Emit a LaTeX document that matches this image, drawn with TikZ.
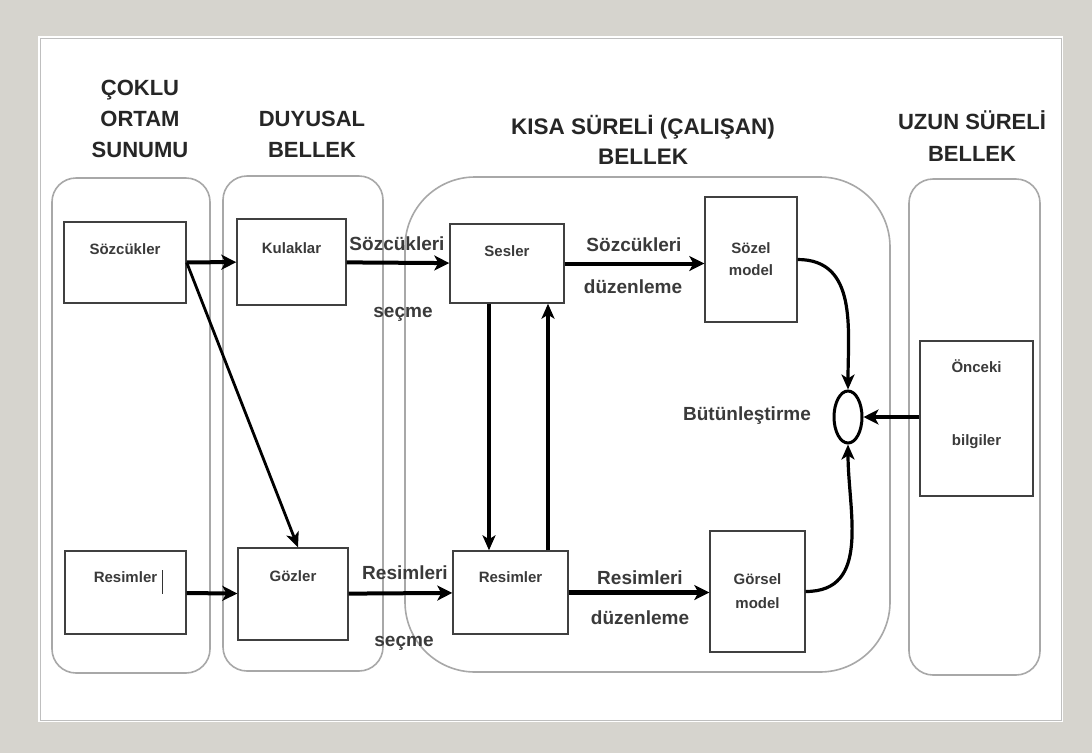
\documentclass[tikz,border=0pt]{standalone}
\usepackage{fontspec}
\setmainfont{Liberation Sans}
\usetikzlibrary{arrows.meta,shapes.geometric}

\definecolor{framegray}{HTML}{D6D4CE}
\definecolor{colgray}{HTML}{A8A8A8}
\definecolor{txtgray}{HTML}{3A3A3A}

\begin{document}
\begin{tikzpicture}[x=1pt,y=-1pt,
  column/.style={draw=colgray,line width=1.6pt,rounded corners=24pt},
  box/.style={draw=black!75,line width=1.4pt,inner sep=0pt},
  boxtext/.style={anchor=center,text=txtgray,font=\bfseries\fontsize{15}{18}\selectfont},
  header/.style={align=center,text=black!85,font=\bfseries\fontsize{22}{31}\selectfont},
  steplabel/.style={text=txtgray,font=\bfseries\fontsize{19}{22}\selectfont},
  thick arrow/.style={line width=4pt,-{Stealth[length=15pt,width=15pt,inset=4pt]}},
  thin arrow/.style={line width=3.2pt,-{Stealth[length=15pt,width=13pt,inset=4pt]}}]

  % frame
  \fill[framegray] (0,0) rectangle (1092,753);
  \fill[white] (38,36) rectangle (1063,722);
  \draw[black!25,line width=1pt] (40,38) rectangle (1061,720);

  % columns
  \draw[column] (52,178) rectangle (210,673);
  \draw[column] (223,176) rectangle (383,671);
  \draw[column,rounded corners=70pt] (405,177) rectangle (890,672);
  \draw[column] (909,179) rectangle (1040,675);

  % headers
  \node[header] (H1) at (140,119) {ÇOKLU\\ORTAM\\SUNUMU};
  \node[header] (H2) at (312,134.5) {DUYUSAL\\BELLEK};
  \node[header,font=\bfseries\fontsize{22.5}{30}\selectfont] (H3) at (643,140) {KISA SÜRELİ (ÇALIŞAN)\\BELLEK};
  \node[header,font=\bfseries\fontsize{22}{32}\selectfont] (H4) at (972,136) {UZUN SÜRELİ\\BELLEK};

  % boxes
  \node[box,minimum width=122pt,minimum height=81pt,label={[boxtext,yshift=-28pt]north:Sözcükler}] (S1) at (125,262.5) {};
  \node[box,minimum width=121pt,minimum height=83pt,label={[boxtext,yshift=-27pt]north:Resimler}] (R1) at (125.5,592.5) {};
  \node[box,minimum width=109pt,minimum height=86pt,label={[boxtext,yshift=-30pt]north:Kulaklar}] (K) at (291.5,262) {};
  \node[box,minimum width=110pt,minimum height=92pt,label={[boxtext,yshift=-29pt]north:Gözler}] (G) at (293,594) {};
  \node[box,minimum width=114pt,minimum height=79pt,label={[boxtext,yshift=-28pt]north:Sesler}] (Ss) at (507,263.5) {};
  \node[box,minimum width=115pt,minimum height=83pt,label={[boxtext,yshift=-27pt]north:Resimler}] (R2) at (510.5,592.5) {};
  \node[box,minimum width=92pt,minimum height=125pt,boxtext,align=center,font=\bfseries\fontsize{15}{22}\selectfont] (SM) at (751,259.5) {Sözel\\model};
  \node[box,minimum width=95pt,minimum height=121pt,boxtext,align=center,font=\bfseries\fontsize{15}{24}\selectfont] (GM) at (757.5,591.5) {Görsel\\model};
  \node[box,minimum width=113pt,minimum height=155pt,label={[boxtext,align=center,anchor=north,yshift=-16pt,font=\bfseries\fontsize{15}{73}\selectfont]north:Önceki\\bilgiler}] (OB) at (976.5,418.5) {};
  \node[ellipse,draw=black,line width=3pt,minimum width=28pt,minimum height=52pt,inner sep=0pt] (E) at (848,417) {};

  % text cursor
  \draw[black!80,line width=1pt] (162,570) -- (162,594);

  % labels
  \node[steplabel] (L1) at (397,244) {Sözcükleri};
  \node[steplabel] (L2) at (403,314) {seçme};
  \node[steplabel] (L3) at (634,245) {Sözcükleri};
  \node[steplabel] (L4) at (633,287) {düzenleme};
  \node[steplabel] (L5) at (405,573) {Resimleri};
  \node[steplabel] (L6) at (404,643) {seçme};
  \node[steplabel] (L7) at (640,578) {Resimleri};
  \node[steplabel] (L8) at (640,618) {düzenleme};
  \node[steplabel] (L9) at (747,416) {Bütünleştirme};

  % arrows
  \draw[thick arrow] (S1) -- (K);
  \draw[thin arrow,line width=2.8pt] (S1.east) -- ([xshift=5pt]G.north);
  \draw[thick arrow] (R1) -- (G);
  \draw[thick arrow] (K) -- (Ss);
  \draw[thick arrow] (G) -- (R2);
  \draw[thick arrow] (Ss.east) -- (Ss.east -| SM.west);
  \draw[thick arrow,line width=4.6pt] (R2.east) -- (R2.east -| GM.west);
  \draw[thin arrow] ([xshift=-18pt]Ss.south) -- ([xshift=-18pt]Ss.south |- R2.north);
  \draw[thin arrow] ([xshift=41pt]Ss.south |- R2.north) -- ([xshift=41pt]Ss.south);
  \draw[thin arrow] (SM.east) to[out=0,in=90,looseness=1.1] (E.north);
  \draw[thin arrow] (GM.east) to[out=0,in=-90,looseness=1.1] (E.south);
  \draw[thick arrow] (OB.west |- E.east) -- (E.east);

\end{tikzpicture}
\end{document}
